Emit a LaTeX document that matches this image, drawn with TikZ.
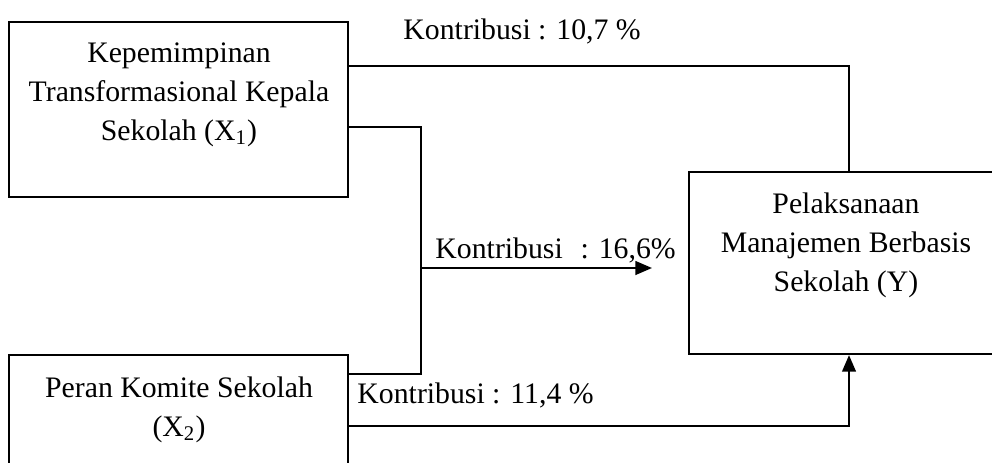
\documentclass[tikz,border=0pt]{standalone}
\usepackage{fontspec}
\setmainfont{Liberation Serif}
\usetikzlibrary{arrows.meta,fit}
\begin{document}
\begin{tikzpicture}[x=0.41pt,y=-0.41pt,
  box/.style={draw,line width=0.9pt,inner sep=0pt,rectangle},
  txt/.style={align=center,inner sep=0pt,font=\fontsize{12.2}{16}\selectfont},
  lbl/.style={inner sep=0pt,font=\fontsize{12.2}{14}\selectfont},
  link/.style={line width=0.9pt},
  arr/.style={link,-{Triangle[length=6.8pt,width=5.6pt]}}]
\useasboundingbox (0,0) rectangle (992,463);
\clip (0,0) rectangle (992,463);

% variable boxes
\node[box,fit={(9,22)(348,197)}] (x1) {};
\node[box,fit={(9,355)(348,520)}] (x2) {};
\node[box,fit={(689,172)(1040,354)}] (y) {};

\node[txt,anchor=north] (x1t) at (179,42)
  {Kepemimpinan\\Transformasional Kepala\\Sekolah (X\textsubscript{1})};
\node[txt,anchor=north] (x2t) at (179,376)
  {Peran Komite Sekolah\\(X\textsubscript{2})};
\node[txt,anchor=north] (yt) at (846,192)
  {Pelaksanaan\\Manajemen Berbasis\\Sekolah (Y)};

% junction points of the connectors
\coordinate (j1) at (849,66);
\coordinate (j2) at (421,127);
\coordinate (j3) at (421,374);
\coordinate (j4) at (421,268);
\coordinate (t4) at (652,268);
\coordinate (j5) at (849,426);

\draw[link] (x1.east |- j1) -- (j1) -- (y.north -| j1);
\draw[link] (x1.east |- j2) -- (j2) -- (j3) -- (x2.east |- j3);
\draw[arr] (j4) -- (t4);
\draw[arr] (x2.east |- j5) -- (j5) -- (y.south -| j5);

% contribution labels
\node[lbl,anchor=base west] (c1) at (403,40) {Kontribusi : 10,7 \%};
\node[lbl,anchor=base west] (c2) at (435,258) {Kontribusi\hspace{0.6em}: 16,6\%};
\node[lbl,anchor=base west] (c3) at (357,403) {Kontribusi : 11,4 \%};
\end{tikzpicture}
\end{document}
